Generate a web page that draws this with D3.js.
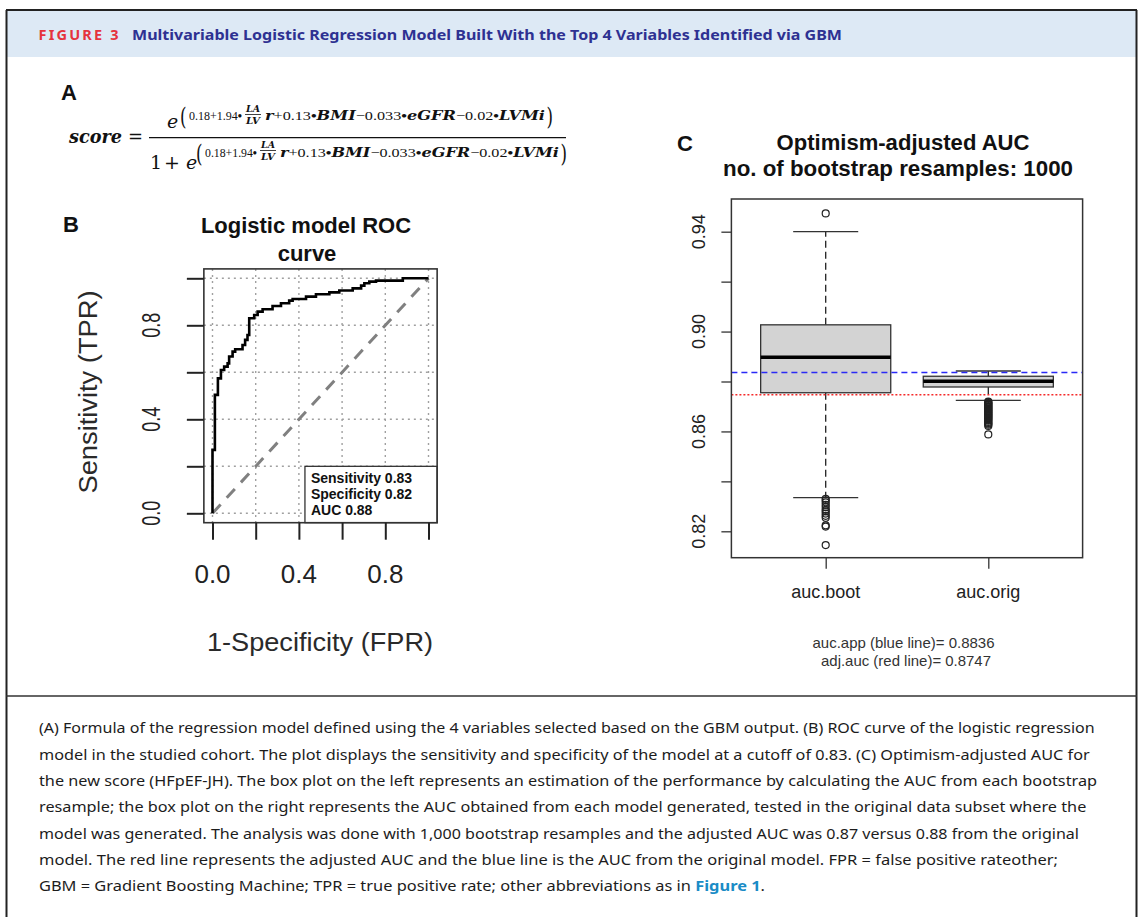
<!DOCTYPE html>
<html><head><meta charset="utf-8">
<script src="https://cdn.jsdelivr.net/npm/d3@7"></script>
<style>body{margin:0;background:#fff}svg{display:block}</style>
</head><body>
<svg id="fig" width="1143" height="917"></svg>
<script>
// ---------------- data ----------------
const rocFPR = [0, 0.011, 0.025, 0.039, 0.054, 0.070, 0.077, 0.093, 0.105, 0.139, 0.151, 0.162, 0.170, 0.193, 0.209, 0.232, 0.278, 0.317, 0.355, 0.371, 0.433, 0.479, 0.541, 0.587, 0.649, 0.688, 0.703, 0.726, 0.757, 0.881, 1.0];
const rocTPR = [0, 0.270, 0.504, 0.574, 0.610, 0.624, 0.638, 0.667, 0.688, 0.698, 0.716, 0.738, 0.759, 0.830, 0.844, 0.858, 0.868, 0.882, 0.894, 0.905, 0.912, 0.922, 0.932, 0.940, 0.948, 0.957, 0.969, 0.979, 0.986, 0.990, 1.0];
const rocTicks = [0, 0.2, 0.4, 0.6, 0.8, 1.0];
const rocTickLabels = ["0.0", "", "0.4", "", "0.8", ""];
const rocLegend = ["Sensitivity 0.83", "Specificity 0.82", "AUC 0.88"];

const boxCategories = ["auc.boot", "auc.orig"];
// [lower whisker, Q1, median, Q3, upper whisker]
const bootStats = [0.8335, 0.8755, 0.8897, 0.9027, 0.9400];
const origStats = [0.8724, 0.8778, 0.8801, 0.8821, 0.8842];
const bootOutliers = [0.9473, 0.8330, 0.8324, 0.8316, 0.8306, 0.8297, 0.8286, 0.8280, 0.8271, 0.8262, 0.8254, 0.8224, 0.8219, 0.8145];
const origOutliers = [0.8719, 0.8717, 0.8713, 0.8711, 0.8707, 0.8705, 0.8701, 0.8698, 0.8696, 0.8692, 0.8689, 0.8687, 0.8683, 0.8680, 0.8678, 0.8674, 0.8671, 0.8669, 0.8665, 0.8662, 0.8660, 0.8656, 0.8653, 0.8650, 0.8646, 0.8643, 0.8638, 0.8634, 0.8631, 0.8627, 0.8622, 0.8588];
const aucApp = 0.8836;
const adjAuc = 0.8747;
const boxTicks = [0.82, 0.84, 0.86, 0.88, 0.90, 0.92, 0.94];
const boxTickLabels = ["0.82", "", "0.86", "", "0.90", "", "0.94"];

// formula terms: [text, kind] kind 0 = number, 1 = variable, 2 = product dot
const formulaHead = [["0.18+1.94", 0], ["•", 2]];
const formulaTail = [["r", 1], ["+0.13", 0], ["•", 2], ["BMI", 1], ["−0.033", 0], ["•", 2], ["eGFR", 1], ["−0.02", 0], ["•", 2], ["LVMi", 1]];

const captionLines = [
  "(A) Formula of the regression model defined using the 4 variables selected based on the GBM output. (B) ROC curve of the logistic regression",
  "model in the studied cohort. The plot displays the sensitivity and specificity of the model at a cutoff of 0.83. (C) Optimism-adjusted AUC for",
  "the new score (HFpEF-JH). The box plot on the left represents an estimation of the performance by calculating the AUC from each bootstrap",
  "resample; the box plot on the right represents the AUC obtained from each model generated, tested in the original data subset where the",
  "model was generated. The analysis was done with 1,000 bootstrap resamples and the adjusted AUC was 0.87 versus 0.88 from the original",
  "model. The red line represents the adjusted AUC and the blue line is the AUC from the original model. FPR = false positive rateother;"
];
const captionLast = "GBM = Gradient Boosting Machine; TPR = true positive rate; other abbreviations as in ";
const captionLink = "Figure 1";

// ---------------- drawing ----------------
const svg = d3.select("#fig");
const RF = "Liberation Sans, Arial, sans-serif";

// header / frame
svg.append("rect").attr("x", 6.5).attr("y", 10).attr("width", 1130).attr("height", 47).attr("fill", "#dde9f5");
svg.append("line").attr("x1", 6).attr("x2", 1137).attr("y1", 10).attr("y2", 10).attr("stroke", "#222").attr("stroke-width", 2);
svg.append("line").attr("x1", 6.5).attr("x2", 6.5).attr("y1", 10).attr("y2", 917).attr("stroke", "#222").attr("stroke-width", 2);
svg.append("line").attr("x1", 1136.5).attr("x2", 1136.5).attr("y1", 10).attr("y2", 917).attr("stroke", "#222").attr("stroke-width", 2);
svg.append("line").attr("x1", 6).attr("x2", 1137).attr("y1", 696).attr("y2", 696).attr("stroke", "#333").attr("stroke-width", 1.5);

svg.append("text").attr("x", 38.5).attr("y", 40).attr("font-family", "Noto Sans").attr("font-weight", "bold")
  .attr("font-size", 14.5).attr("fill", "#e5333d").attr("textLength", 80).attr("lengthAdjust", "spacing").text("FIGURE 3");
svg.append("text").attr("x", 132).attr("y", 40).attr("font-family", "Noto Sans").attr("font-weight", "bold")
  .attr("font-size", 15).attr("fill", "#2e3192").attr("textLength", 710).attr("lengthAdjust", "spacingAndGlyphs")
  .text("Multivariable Logistic Regression Model Built With the Top 4 Variables Identified via GBM");

// ---------------- panel A: formula ----------------
svg.append("text").attr("x", 61).attr("y", 100).attr("font-family", RF).attr("font-weight", "bold").attr("font-size", 22).attr("fill", "#111").text("A");
const F = svg.append("g").attr("font-family", "DejaVu Serif").attr("fill", "#111");
F.append("text").attr("x", 69).attr("y", 143).attr("font-size", 19).attr("font-weight", "bold").attr("font-style", "italic")
  .attr("textLength", 53).attr("lengthAdjust", "spacingAndGlyphs").text("score");
F.append("text").attr("x", 128).attr("y", 143).attr("font-size", 19).attr("textLength", 15).attr("lengthAdjust", "spacingAndGlyphs").text("=");
F.append("line").attr("x1", 149).attr("x2", 566).attr("y1", 137.7).attr("y2", 137.7).attr("stroke", "#111").attr("stroke-width", 1.2);

function termText(g, x, y, size, terms, target) {
  const t = g.append("text").attr("x", x).attr("y", y).attr("font-size", size);
  terms.forEach(([s, k]) => {
    const ts = t.append("tspan").text(s);
    if (k === 0) ts.attr("font-family", "Liberation Serif");
    if (k === 1) ts.attr("font-weight", "bold").attr("font-style", "italic");
    if (k === 2) ts.attr("font-family", "Liberation Serif").attr("font-weight", "bold");
  });
  const nat = t.node().getComputedTextLength();
  if (nat > target) t.attr("font-size", size * target / nat);
  t.attr("textLength", target).attr("lengthAdjust", "spacingAndGlyphs");
  return t;
}
function exponent(g, x0, base, fracBase, x1, x2, x3, x4) {
  g.append("text").attr("x", x0 - 9).attr("y", base + 4.5).attr("font-size", 24).attr("textLength", 6.5).attr("lengthAdjust", "spacingAndGlyphs").text("(");
  termText(g, x0, base, 13, formulaHead, x1 - x0);
  const fa = x1 + 3, fb = x2 - 1, cx = (fa + fb) / 2;
  g.append("text").attr("x", cx).attr("y", fracBase - 3).attr("text-anchor", "middle").attr("font-size", 8.5)
    .attr("font-weight", "bold").attr("font-style", "italic").attr("textLength", fb - fa - 2).attr("lengthAdjust", "spacingAndGlyphs").text("LA");
  g.append("line").attr("x1", fa).attr("x2", fb).attr("y1", fracBase - 0.5).attr("y2", fracBase - 0.5).attr("stroke", "#111").attr("stroke-width", 0.8);
  g.append("text").attr("x", cx).attr("y", fracBase + 8.5).attr("text-anchor", "middle").attr("font-size", 8.5)
    .attr("font-weight", "bold").attr("font-style", "italic").attr("textLength", fb - fa - 2).attr("lengthAdjust", "spacingAndGlyphs").text("LV");
  termText(g, x3, base, 13, formulaTail, x4 - x3);
  g.append("text").attr("x", x4 + 1.5).attr("y", base + 4.5).attr("font-size", 24).attr("textLength", 6.5).attr("lengthAdjust", "spacingAndGlyphs").text(")");
}
// numerator
F.append("text").attr("x", 167).attr("y", 128).attr("font-size", 19).attr("font-style", "italic").text("e");
exponent(F, 189, 120, 115, 242, 262, 265, 545);
// denominator
F.append("text").attr("x", 150).attr("y", 169).attr("font-size", 19).text("1");
F.append("text").attr("x", 164).attr("y", 169).attr("font-size", 19).text("+");
F.append("text").attr("x", 186).attr("y", 169).attr("font-size", 19).attr("font-style", "italic").text("e");
exponent(F, 205, 157, 151, 257, 277, 280, 559);

// ---------------- panel B: ROC ----------------
svg.append("text").attr("x", 63).attr("y", 232).attr("font-family", RF).attr("font-weight", "bold").attr("font-size", 22).attr("fill", "#111").text("B");
const xR = d3.scaleLinear().domain([0, 1]).range([212.5, 428.5]);
const yR = d3.scaleLinear().domain([0, 1]).range([513.3, 278.3]);
const B = svg.append("g");
B.append("text").attr("x", 306).attr("y", 233).attr("text-anchor", "middle").attr("font-family", RF).attr("font-weight", "bold")
  .attr("font-size", 22).attr("fill", "#111").text("Logistic model ROC");
B.append("text").attr("x", 307).attr("y", 261).attr("text-anchor", "middle").attr("font-family", RF).attr("font-weight", "bold")
  .attr("font-size", 22).attr("fill", "#111").text("curve");

// grid
B.selectAll(".gv").data(rocTicks).join("line").attr("x1", d => xR(d)).attr("x2", d => xR(d))
  .attr("y1", yR(1.04)).attr("y2", yR(-0.04)).attr("stroke", "#a0a0a0").attr("stroke-width", 1.4).attr("stroke-dasharray", "2,4");
B.selectAll(".gh").data(rocTicks).join("line").attr("y1", d => yR(d)).attr("y2", d => yR(d))
  .attr("x1", xR(-0.04)).attr("x2", xR(1.04)).attr("stroke", "#a0a0a0").attr("stroke-width", 1.4).attr("stroke-dasharray", "2,4");
// diagonal
B.append("line").attr("x1", xR(0)).attr("y1", yR(0)).attr("x2", xR(1)).attr("y2", yR(1))
  .attr("stroke", "#808080").attr("stroke-width", 3).attr("stroke-dasharray", "12,9");
// ROC curve
const rocPts = rocFPR.map((f, i) => [f, rocTPR[i]]);
B.append("path").datum(rocPts).attr("fill", "none").attr("stroke", "#000").attr("stroke-width", 2.6).attr("stroke-linejoin", "miter")
  .attr("d", d3.line().x(d => xR(d[0])).y(d => yR(d[1])).curve(d3.curveStepBefore));
// legend box
const lgX = xR(0.428), lgY = yR(0.2);
B.append("rect").attr("x", lgX).attr("y", lgY).attr("width", xR(1.04) - lgX).attr("height", yR(-0.04) - lgY)
  .attr("fill", "#fff").attr("stroke", "#222").attr("stroke-width", 1.2);
B.selectAll(".lg").data(rocLegend).join("text").attr("x", lgX + 6).attr("y", (d, i) => lgY + 16.5 + i * 16)
  .attr("font-family", RF).attr("font-weight", "bold").attr("font-size", 14).attr("fill", "#111").text(d => d);
// box
B.append("rect").attr("x", xR(-0.04)).attr("y", yR(1.04)).attr("width", xR(1.04) - xR(-0.04)).attr("height", yR(-0.04) - yR(1.04))
  .attr("fill", "none").attr("stroke", "#333").attr("stroke-width", 1.6);
// axes
const axB = d3.axisBottom(xR).tickValues(rocTicks).tickSize(17).tickFormat(() => "");
const gxb = B.append("g").attr("transform", `translate(0,${yR(-0.04)})`).call(axB);
gxb.select(".domain").remove();
gxb.selectAll(".tick line").attr("stroke", "#222").attr("stroke-width", 2);
const axL = d3.axisLeft(yR).tickValues(rocTicks).tickSize(17).tickFormat(() => "");
const gyl = B.append("g").attr("transform", `translate(${xR(-0.04)},0)`).call(axL);
gyl.select(".domain").remove();
gyl.selectAll(".tick line").attr("stroke", "#222").attr("stroke-width", 2);
B.selectAll(".xl").data(rocTicks.filter((d, i) => rocTickLabels[i])).join("text")
  .attr("x", d => xR(d)).attr("y", 583).attr("text-anchor", "middle").attr("font-family", RF).attr("font-size", 26).attr("fill", "#222")
  .text(d => rocTickLabels[rocTicks.indexOf(d)]);
B.selectAll(".yl").data(rocTicks.filter((d, i) => rocTickLabels[i])).join("text")
  .attr("transform", d => `translate(160,${yR(d)}) rotate(-90)`).attr("text-anchor", "middle").attr("font-family", RF)
  .attr("font-size", 25).attr("fill", "#222").attr("textLength", 25).attr("lengthAdjust", "spacingAndGlyphs")
  .text(d => rocTickLabels[rocTicks.indexOf(d)]);
B.append("text").attr("x", 320).attr("y", 651).attr("text-anchor", "middle").attr("font-family", RF).attr("font-size", 26)
  .attr("fill", "#2a2a2a").attr("textLength", 226).attr("lengthAdjust", "spacingAndGlyphs").text("1-Specificity (FPR)");
B.append("text").attr("transform", "translate(97,392) rotate(-90)").attr("text-anchor", "middle").attr("font-family", RF)
  .attr("font-size", 26).attr("fill", "#2a2a2a").attr("textLength", 203).attr("lengthAdjust", "spacingAndGlyphs").text("Sensitivity (TPR)");

// ---------------- panel C: boxplots ----------------
const C = svg.append("g");
C.append("text").attr("x", 677).attr("y", 151).attr("font-family", RF).attr("font-weight", "bold").attr("font-size", 22).attr("fill", "#111").text("C");
C.append("text").attr("x", 903).attr("y", 150).attr("text-anchor", "middle").attr("font-family", RF).attr("font-weight", "bold")
  .attr("font-size", 22).attr("fill", "#111").attr("textLength", 253).attr("lengthAdjust", "spacingAndGlyphs").text("Optimism-adjusted AUC");
C.append("text").attr("x", 898).attr("y", 176).attr("text-anchor", "middle").attr("font-family", RF).attr("font-weight", "bold")
  .attr("font-size", 22).attr("fill", "#111").attr("textLength", 350).attr("lengthAdjust", "spacingAndGlyphs").text("no. of bootstrap resamples: 1000");

const yC = d3.scaleLinear().domain([0.82, 0.94]).range([531.3, 231.7]);
const xC = d3.scaleLinear().domain([1, 2]).range([825.7, 988.3]);
const plotL = xC(0.42), plotR = xC(2.58), plotT = 199, plotB = 557.7;
const unit = xC(2) - xC(1);
const halfBox = 0.4 * unit, halfCap = 0.2 * unit;

function drawBox(pos, st, outs) {
  const [lo, q1, med, q3, hi] = st;
  const xc = xC(pos);
  C.append("line").attr("x1", xc).attr("x2", xc).attr("y1", yC(q3)).attr("y2", yC(hi)).attr("stroke", "#222").attr("stroke-width", 1.3).attr("stroke-dasharray", "7,4");
  C.append("line").attr("x1", xc).attr("x2", xc).attr("y1", yC(q1)).attr("y2", yC(lo)).attr("stroke", "#222").attr("stroke-width", 1.3).attr("stroke-dasharray", "7,4");
  [lo, hi].forEach(v => C.append("line").attr("x1", xc - halfCap).attr("x2", xc + halfCap).attr("y1", yC(v)).attr("y2", yC(v)).attr("stroke", "#333").attr("stroke-width", 1.3));
  C.append("rect").attr("x", xc - halfBox).attr("width", 2 * halfBox).attr("y", yC(q3)).attr("height", yC(q1) - yC(q3))
    .attr("fill", "#d3d3d3").attr("stroke", "#333").attr("stroke-width", 1.3);
  C.append("line").attr("x1", xc - halfBox).attr("x2", xc + halfBox).attr("y1", yC(med)).attr("y2", yC(med)).attr("stroke", "#000").attr("stroke-width", 3.5);
  C.selectAll(null).data(outs).join("circle").attr("cx", xc).attr("cy", d => yC(d)).attr("r", 3.5)
    .attr("fill", "none").attr("stroke", "#222").attr("stroke-width", 1.2);
}
drawBox(1, bootStats, bootOutliers);
drawBox(2, origStats, origOutliers);

// reference lines
C.append("line").attr("x1", plotL).attr("x2", plotR).attr("y1", yC(aucApp)).attr("y2", yC(aucApp))
  .attr("stroke", "#2a2af5").attr("stroke-width", 1.5).attr("stroke-dasharray", "6,4");
C.append("line").attr("x1", plotL).attr("x2", plotR).attr("y1", yC(adjAuc)).attr("y2", yC(adjAuc))
  .attr("stroke", "#f52a2a").attr("stroke-width", 1.6).attr("stroke-dasharray", "2,2");
// frame
C.append("rect").attr("x", plotL).attr("y", plotT).attr("width", plotR - plotL).attr("height", plotB - plotT)
  .attr("fill", "none").attr("stroke", "#333").attr("stroke-width", 1.5);
// axes
const axCL = d3.axisLeft(yC).tickValues(boxTicks).tickSize(10).tickFormat(() => "");
const gcl = C.append("g").attr("transform", `translate(${plotL},0)`).call(axCL);
gcl.select(".domain").remove();
gcl.selectAll(".tick line").attr("stroke", "#333").attr("stroke-width", 1.3);
C.selectAll(".cyl").data(boxTicks.filter((d, i) => boxTickLabels[i])).join("text")
  .attr("transform", d => `translate(705,${yC(d)}) rotate(-90)`).attr("text-anchor", "middle").attr("font-family", RF)
  .attr("font-size", 18).attr("fill", "#222").text(d => boxTickLabels[boxTicks.indexOf(d)]);
const axCB = d3.axisBottom(xC).tickValues([1, 2]).tickSize(11).tickFormat(() => "");
const gcb = C.append("g").attr("transform", `translate(0,${plotB})`).call(axCB);
gcb.select(".domain").remove();
gcb.selectAll(".tick line").attr("stroke", "#333").attr("stroke-width", 1.3);
C.selectAll(".cxl").data(boxCategories).join("text").attr("x", (d, i) => xC(i + 1)).attr("y", 598)
  .attr("text-anchor", "middle").attr("font-family", RF).attr("font-size", 18).attr("fill", "#222").text(d => d);
C.append("text").attr("x", 903.5).attr("y", 647.5).attr("text-anchor", "middle").attr("font-family", RF).attr("font-size", 15)
  .attr("fill", "#333").attr("textLength", 182).attr("lengthAdjust", "spacingAndGlyphs").text(`auc.app (blue line)= ${aucApp}`);
C.append("text").attr("x", 906).attr("y", 666).attr("text-anchor", "middle").attr("font-family", RF).attr("font-size", 15)
  .attr("fill", "#333").attr("textLength", 170).attr("lengthAdjust", "spacingAndGlyphs").text(`adj.auc (red line)= ${adjAuc}`);

// ---------------- caption ----------------
const capEnds = [1094.7, 1089.7, 1097, 1086.3, 1079, 1058];
const CP = svg.append("g").attr("font-family", "Noto Sans").attr("font-size", 15).attr("fill", "#1c1c1c");
captionLines.forEach((t, i) => {
  CP.append("text").attr("x", 39).attr("y", 733.3 + i * 26.35).attr("textLength", capEnds[i] - 39)
    .attr("lengthAdjust", "spacingAndGlyphs").text(t);
});
const last = CP.append("text").attr("x", 39).attr("y", 733.3 + 6 * 26.35).attr("textLength", 765 - 39).attr("lengthAdjust", "spacingAndGlyphs");
last.append("tspan").text(captionLast);
last.append("tspan").attr("font-weight", "bold").attr("fill", "#1a8cc6").text(captionLink);
last.append("tspan").text(".");
</script>
</body></html>
